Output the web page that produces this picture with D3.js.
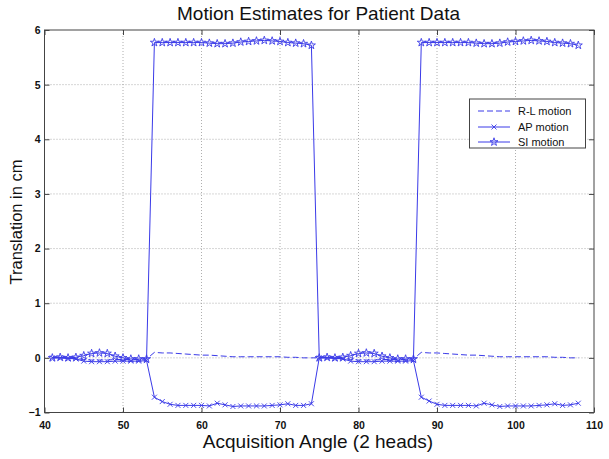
<!DOCTYPE html>
<html><head><meta charset="utf-8">
<script src="https://cdn.jsdelivr.net/npm/d3@7"></script>
<style>
html,body{margin:0;padding:0;background:#fff;}
svg{display:block;font-family:"Liberation Sans",Arial,Helvetica,sans-serif;}
</style></head>
<body><svg id="c" width="609" height="459"></svg>
<script>
// ---- data ----
const angles = [41,42,43,44,45,46,47,48,49,50,51,52,53,
  54,55,56,57,58,59,60,61,62,63,64,65,66,67,68,69,70,71,72,73,74,
  75,76,77,78,79,80,81,82,83,84,85,86,87,
  88,89,90,91,92,93,94,95,96,97,98,99,100,101,102,103,104,105,106,107,108];
const rlMotion = [0,0,-0.01,-0.01,-0.03,-0.04,-0.04,-0.04,-0.03,-0.03,-0.03,-0.03,-0.02,
  0.10,0.09,0.09,0.08,0.07,0.06,0.05,0.05,0.04,0.03,0.02,0.02,0.02,0.02,0.02,0.02,0.02,0.01,0.01,0.0,0.0,
  0,0,-0.01,-0.01,-0.03,-0.04,-0.04,-0.04,-0.03,-0.03,-0.03,-0.03,-0.02,
  0.10,0.09,0.09,0.08,0.07,0.06,0.05,0.05,0.04,0.03,0.02,0.02,0.02,0.02,0.02,0.02,0.02,0.01,0.01,0.0,0.0];
const apMotion = [0,0,-0.01,-0.02,-0.06,-0.07,-0.07,-0.07,-0.06,-0.06,-0.06,-0.06,-0.05,
  -0.72,-0.80,-0.85,-0.87,-0.87,-0.87,-0.87,-0.88,-0.83,-0.86,-0.89,-0.88,-0.88,-0.88,-0.88,-0.87,-0.86,-0.84,-0.87,-0.87,-0.84,
  0,0,-0.01,-0.02,-0.06,-0.07,-0.07,-0.07,-0.06,-0.06,-0.06,-0.06,-0.05,
  -0.72,-0.79,-0.85,-0.87,-0.87,-0.87,-0.87,-0.88,-0.83,-0.86,-0.89,-0.88,-0.88,-0.88,-0.88,-0.87,-0.86,-0.84,-0.87,-0.86,-0.83];
const siMotion = [0.0,0.01,0.0,0.01,0.04,0.08,0.09,0.08,0.03,0.0,-0.02,-0.02,-0.02,
  5.77,5.77,5.77,5.77,5.77,5.77,5.77,5.76,5.75,5.75,5.76,5.78,5.79,5.80,5.81,5.80,5.79,5.77,5.76,5.75,5.72,
  0.0,0.01,0.0,0.01,0.04,0.08,0.09,0.08,0.03,0.0,-0.02,-0.02,-0.02,
  5.77,5.77,5.77,5.77,5.77,5.77,5.77,5.76,5.75,5.75,5.76,5.78,5.79,5.80,5.81,5.80,5.79,5.77,5.76,5.75,5.72];
const xTicks = [40,50,60,70,80,90,100,110];
const yTicks = [-1,0,1,2,3,4,5,6];
const seriesNames = ["R-L motion","AP motion","SI motion"];
const titleText = "Motion Estimates for Patient Data";
const xLabel = "Acquisition Angle (2 heads)";
const yLabel = "Translation in cm";

// ---- layout ----
const L = 44.5, R = 594, T = 30, B = 412.5;
const col = "#3a3ae8";
const svg = d3.select("#c");
const x = d3.scaleLinear().domain([40,110]).range([L,R]);
const y = d3.scaleLinear().domain([-1,6]).range([B,T]);
const fmt = d3.format("d");

// grid
const grid = svg.append("g").attr("stroke","#9a9a9a").attr("stroke-width",0.8).attr("stroke-dasharray","1,2");
grid.selectAll("line.gx").data(xTicks.slice(1,-1)).join("line")
  .attr("x1",d=>x(d)).attr("x2",d=>x(d)).attr("y1",T).attr("y2",B);
grid.selectAll("line.gy").data(yTicks.slice(1,-1)).join("line")
  .attr("y1",d=>y(d)).attr("y2",d=>y(d)).attr("x1",L).attr("x2",R);

// axes
function styleAxis(g){ g.select(".domain").remove(); g.selectAll("line").attr("stroke","#444"); g.selectAll("text").attr("font-size",10.5).attr("font-weight","bold").attr("fill","#111").attr("font-family","Liberation Sans, Arial, sans-serif"); }
svg.append("g").attr("transform",`translate(0,${B})`).call(d3.axisBottom(x).tickValues(xTicks).tickFormat(fmt).tickSize(-5).tickPadding(9)).call(styleAxis);
svg.append("g").attr("transform",`translate(0,${T})`).call(d3.axisTop(x).tickValues(xTicks).tickSize(-5).tickFormat("")).call(styleAxis);
svg.append("g").attr("transform",`translate(${L},0)`).call(d3.axisLeft(y).tickValues(yTicks).tickFormat(fmt).tickSize(-5).tickPadding(4)).call(styleAxis);
svg.append("g").attr("transform",`translate(${R},0)`).call(d3.axisRight(y).tickValues(yTicks).tickSize(-5).tickFormat("")).call(styleAxis);
svg.append("rect").attr("x",L).attr("y",T).attr("width",R-L).attr("height",B-T).attr("fill","none").attr("stroke","#444").attr("stroke-width",1);

// lines
const line = d3.line().x((d,i)=>x(angles[i])).y(d=>y(d));
const starPath = d3.symbol().type(d3.symbolStar).size(20)();
const xPath = "M-2.5,-2.5L2.5,2.5M-2.5,2.5L2.5,-2.5";

svg.append("path").datum(rlMotion).attr("d",line).attr("fill","none").attr("stroke",col).attr("stroke-width",1).attr("stroke-dasharray","6,3");
svg.append("path").datum(apMotion).attr("d",line).attr("fill","none").attr("stroke",col).attr("stroke-width",1);
svg.append("g").selectAll("path").data(apMotion).join("path")
  .attr("transform",(d,i)=>`translate(${x(angles[i])},${y(d)})`).attr("d",xPath).attr("fill","none").attr("stroke",col).attr("stroke-width",0.9);
svg.append("path").datum(siMotion).attr("d",line).attr("fill","none").attr("stroke",col).attr("stroke-width",1);
svg.append("g").selectAll("path").data(siMotion).join("path")
  .attr("transform",(d,i)=>`translate(${x(angles[i])},${y(d)})`).attr("d",starPath).attr("fill","none").attr("stroke",col).attr("stroke-width",0.9);

// texts
svg.append("text").attr("x",318.5).attr("y",20).attr("text-anchor","middle").attr("font-size",19).attr("fill","#111").text(titleText);
svg.append("text").attr("x",318).attr("y",448).attr("text-anchor","middle").attr("font-size",19).attr("fill","#111").text(xLabel);
svg.append("text").attr("transform","translate(22,222) rotate(-90)").attr("text-anchor","middle").attr("font-size",16.5).attr("fill","#111").text(yLabel);

// legend
const lg = svg.append("g");
lg.append("rect").attr("x",469.5).attr("y",99).attr("width",116).attr("height",49).attr("fill","#fff").attr("stroke","#444").attr("stroke-width",1);
const ly = [111,127,142];
seriesNames.forEach((n,i)=>{
  lg.append("line").attr("x1",478).attr("x2",510).attr("y1",ly[i]).attr("y2",ly[i]).attr("stroke",col).attr("stroke-width",1).attr("stroke-dasharray",i===0?"6,3":null);
  if(i===1) lg.append("path").attr("transform",`translate(494,${ly[i]})`).attr("d",xPath).attr("fill","none").attr("stroke",col).attr("stroke-width",0.9);
  if(i===2) lg.append("path").attr("transform",`translate(494,${ly[i]})`).attr("d",starPath).attr("fill","none").attr("stroke",col).attr("stroke-width",0.9);
  lg.append("text").attr("x",518).attr("y",ly[i]+4).attr("font-size",11).attr("fill","#111").text(n);
});
</script></body></html>
